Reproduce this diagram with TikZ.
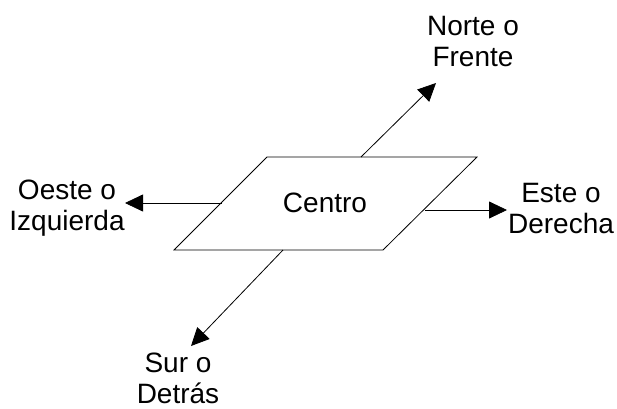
\documentclass[tikz,border=0pt]{standalone}
\usepackage{fontspec}
\setmainfont{Liberation Sans}
\usetikzlibrary{arrows.meta}

\begin{document}
\begin{tikzpicture}[x=1pt,y=-1pt,
  lbl/.style={align=center,inner sep=0pt,font=\fontsize{28}{31}\selectfont},
  arr/.style={-{Triangle[length=18pt,width=17pt]},line width=0.8pt}]
\useasboundingbox (0,0) rectangle (617,408);
\coordinate (tl) at (267,157);
\coordinate (tr) at (477,157);
\coordinate (br) at (383,250);
\coordinate (bl) at (174,250);
\draw[line width=0.8pt] (tl) -- (tr) -- (br) -- (bl) -- cycle;
\node[lbl] (centro) at (325,203) {Centro};
\node[lbl] (norte) at (473,41) {Norte o\\Frente};
\node[lbl] (oeste) at (67,208) {Oeste o\\Izquierda};
\node[lbl] (este) at (561,208) {Este o\\Derecha};
\node[lbl] (sur) at (178,378) {Sur o\\Detrás};

\coordinate (n0) at (361,157);
\coordinate (n1) at (436,83);
\coordinate (o0) at (222,203);
\coordinate (o1) at (125,203);
\coordinate (e0) at (425,210);
\coordinate (e1) at (507,210);
\coordinate (s0) at (283,250);
\coordinate (s1) at (191,346);

\draw[arr] (n0) -- (n1);
\draw[arr] (o0) -- (o1);
\draw[arr] (e0) -- (e1);
\draw[arr] (s0) -- (s1);
\end{tikzpicture}
\end{document}
